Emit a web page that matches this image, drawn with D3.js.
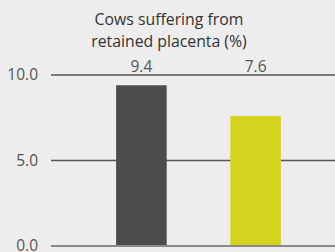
<!DOCTYPE html>
<html>
<head>
<meta charset="utf-8">
<script src="https://cdn.jsdelivr.net/npm/d3@7"></script>
<style>
  html, body { margin: 0; padding: 0; background: #ededed; }
  svg { display: block; font-family: "Open Sans", sans-serif; }
</style>
</head>
<body>
<svg id="chart" width="335" height="252"></svg>
<script>
var titleLines = ["Cows suffering from", "retained placenta (%)"];
var categories = ["A", "B"];
var values = [9.4, 7.6];
var barColors = ["#4b4c4d", "#d4d41e"];
var tickValues = [0, 5, 10];

var width = 335, height = 252;
var margin = { top: 75, right: 0, bottom: 6, left: 51 };

var svg = d3.select("#chart");

var x = d3.scaleBand()
  .domain(categories)
  .range([59, 338])
  .paddingInner(0.557)
  .paddingOuter(0.5);

var y = d3.scaleLinear()
  .domain([0, 10])
  .range([height - margin.bottom, margin.top]);

// title
svg.append("g").selectAll("text")
  .data(titleLines).enter()
  .append("text")
  .attr("x", 169)
  .attr("y", function (d, i) { return 25 + i * 22; })
  .attr("text-anchor", "middle")
  .attr("fill", "#333")
  .style("font-size", "15.8px")
  .text(function (d) { return d; });

// grid lines + labels
var grid = svg.append("g");
grid.selectAll("line")
  .data(tickValues).enter()
  .append("line")
  .attr("x1", margin.left)
  .attr("x2", width)
  .attr("y1", function (d) { return y(d); })
  .attr("y2", function (d) { return y(d); })
  .attr("stroke", function (d) { return d === 0 ? "#8a8a8a" : "#555"; })
  .attr("stroke-width", function (d) { return d === 0 ? 2 : 1.3; });

grid.selectAll("text")
  .data(tickValues).enter()
  .append("text")
  .attr("x", 38)
  .attr("y", function (d) { return y(d) + 5; })
  .attr("text-anchor", "end")
  .attr("fill", "#555")
  .style("font-size", "15.5px")
  .text(function (d) { return d3.format(".1f")(d); });

// bars
svg.append("g").selectAll("rect")
  .data(values).enter()
  .append("rect")
  .attr("x", function (d, i) { return x(categories[i]); })
  .attr("width", x.bandwidth())
  .attr("y", function (d) { return y(d); })
  .attr("height", function (d) { return y(0) - 1 - y(d); })
  .attr("fill", function (d, i) { return barColors[i]; });

// value labels (kept above the top grid line)
svg.append("g").selectAll("text")
  .data(values).enter()
  .append("text")
  .attr("x", function (d, i) { return x(categories[i]) + x.bandwidth() / 2; })
  .attr("y", function (d) { return Math.min(y(d) - 9, y(10) - 3); })
  .attr("text-anchor", "middle")
  .attr("fill", "#555")
  .style("font-size", "15.5px")
  .text(function (d) { return d3.format(".1f")(d); });
</script>
</body>
</html>
